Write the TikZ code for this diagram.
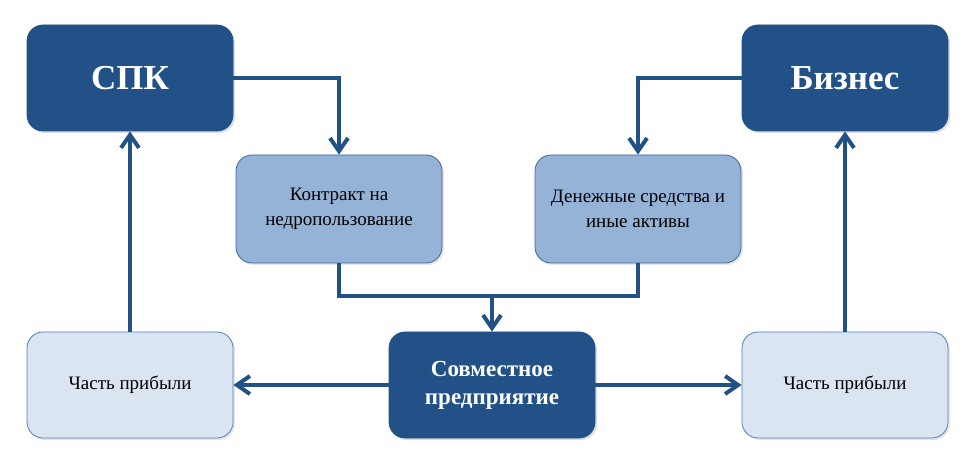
\documentclass[tikz,border=0pt]{standalone}
\usepackage{fontspec}
\setmainfont{Liberation Serif}
\usetikzlibrary{arrows.meta, positioning, shadows}

\definecolor{darkblue}{RGB}{33,81,135}
\definecolor{midblue}{RGB}{149,179,215}
\definecolor{lightblue}{RGB}{219,229,241}
\definecolor{edgeblue}{RGB}{79,129,189}

\begin{document}
\begin{tikzpicture}[
    x=0.5pt, y=-0.5pt,
    node distance = 50pt,
    % --- Node styles ---
    party/.style = {rectangle, rounded corners=8pt, draw=darkblue, thin,
        fill=darkblue, text=white, minimum width=103pt, minimum height=53pt,
        align=center, font=\fontsize{17.5}{20}\selectfont\bfseries,
        drop shadow={opacity=0.25, shadow xshift=1pt, shadow yshift=-1pt}},
    venture/.style = {party, font=\fontsize{11.5}{14}\selectfont\bfseries},
    asset/.style = {rectangle, rounded corners=8pt, draw=edgeblue!80!black, thin,
        fill=midblue, minimum width=103pt, minimum height=54pt, align=center,
        font=\fontsize{9.5}{12.5}\selectfont,
        drop shadow={opacity=0.2, shadow xshift=1pt, shadow yshift=-1pt}},
    share/.style = {asset, fill=lightblue, draw=edgeblue, minimum height=53pt},
    % --- Arrow style ---
    arrow/.style = {line width=2pt, draw=darkblue,
        -{Straight Barb[length=6.5pt, width=9pt]}},
    link/.style = {line width=2pt, draw=darkblue}
]
\useasboundingbox (0,0) rectangle (977,469);

% ==================== TOP ====================
\node[party] (spk) at (130,78) {СПК};
\node[party] (biz) at (845,78) {Бизнес};

% ==================== MIDDLE ====================
\node[asset] (kontrakt) at (339,209) {Контракт на\\недропользование};
\node[asset] (dengi) at (638,209) {Денежные средства и\\иные активы};

% ==================== BOTTOM ====================
\node[venture] (sp) at (492,385) {Совместное\\предприятие};
\node[share] (dolya1) at (130,385) {Часть прибыли};
\node[share] (dolya2) at (845,385) {Часть прибыли};

\coordinate (merge) at (sp.north |- 0,296);

% ==================== ARROWS ====================
\draw[arrow] (spk.east) -| (kontrakt.north);
\draw[arrow] (biz.west) -| (dengi.north);
\draw[link] (kontrakt.south) |- (merge) -| (dengi.south);
\draw[arrow] (merge) -- (sp.north);
\draw[arrow] (sp.west) -- (dolya1.east);
\draw[arrow] (sp.east) -- (dolya2.west);
\draw[arrow] (dolya1.north) -- (spk.south);
\draw[arrow] (dolya2.north) -- (biz.south);

\end{tikzpicture}
\end{document}
